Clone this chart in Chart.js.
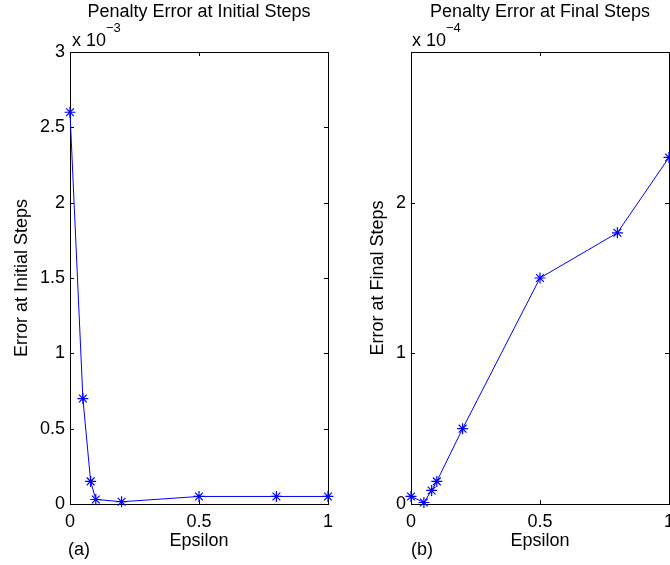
<!DOCTYPE html>
<html>
<head>
<meta charset="utf-8">
<script src="https://cdn.jsdelivr.net/npm/chart.js@4.4.0/dist/chart.umd.min.js"></script>
<style>
  body { margin: 0; width: 670px; height: 565px; overflow: hidden; background: #fff; position: relative;
         font-family: "Liberation Sans", Arial, Helvetica, sans-serif; color: #000; }
  canvas { position: absolute; top: 0; }
  #chartA { left: 0; }
  #chartB { left: 341px; }
  .txt { position: absolute; font-size: 18px; line-height: 18px; white-space: nowrap; }
  .txt .sup { position: relative; top: -14px; font-size: 13px; }
</style>
</head>
<body>
<canvas id="chartA" width="340" height="565"></canvas>
<canvas id="chartB" width="340" height="565"></canvas>
<div class="txt" style="left:72px;top:31px">x 10<span class="sup">&minus;3</span></div>
<div class="txt" style="left:412px;top:31px">x 10<span class="sup">&minus;4</span></div>
<div class="txt" style="left:68px;top:540px">(a)</div>
<div class="txt" style="left:411px;top:540px">(b)</div>
<script>
// ── Data ──
const EPSILON       = [0, 0.05, 0.08, 0.1, 0.2, 0.5, 0.8, 1];
const INITIAL_ERROR = [2.6e-3, 0.7e-3, 0.15e-3, 0.03e-3, 0.015e-3, 0.05e-3, 0.05e-3, 0.05e-3];
const FINAL_ERROR   = [0.05e-4, 0.01e-4, 0.09e-4, 0.15e-4, 0.5e-4, 1.5e-4, 1.8e-4, 2.3e-4];
const X_TICKS  = [0, 0.5, 1];
const X_LABELS = ['0', '0.5', '1'];

const FONT = '"Liberation Sans", Arial, Helvetica, sans-serif';
const TICK_LEN = 4;

Chart.defaults.font.family = FONT;
Chart.defaults.font.size = 18;
Chart.defaults.color = '#000';

// ── Box + inward tick marks (matlab style) ──
const boxTicks = {
  id: 'boxTicks',
  beforeDatasetsDraw(chart) {
    const { ctx, chartArea: a, scales: { x, y } } = chart;
    ctx.save();
    ctx.strokeStyle = '#000';
    ctx.lineWidth = 1;
    ctx.strokeRect(a.left + 0.5, a.top + 0.5, a.width, a.height);
    ctx.beginPath();
    x.ticks.forEach(t => {
      const px = Math.round(x.getPixelForValue(t.value)) + 0.5;
      ctx.moveTo(px, a.bottom); ctx.lineTo(px, a.bottom - TICK_LEN);
      ctx.moveTo(px, a.top);    ctx.lineTo(px, a.top + TICK_LEN);
    });
    y.ticks.forEach(t => {
      const py = Math.round(y.getPixelForValue(t.value)) + 0.5;
      ctx.moveTo(a.left, py);  ctx.lineTo(a.left + TICK_LEN, py);
      ctx.moveTo(a.right, py); ctx.lineTo(a.right - TICK_LEN, py);
    });
    ctx.stroke();
    ctx.restore();
  }
};

function buildChart(id, ys, opts) {
  const ctx = document.getElementById(id).getContext('2d');
  return new Chart(ctx, {
    type: 'scatter',
    data: {
      datasets: [{
        data: EPSILON.map((x, i) => ({ x, y: ys[i] })),
        showLine: true,
        borderColor: '#0000ff',
        borderWidth: 1,
        pointStyle: 'star',
        pointRadius: 5.5,
        pointBorderColor: '#0000ff',
        pointBorderWidth: 1.2,
        pointBackgroundColor: '#0000ff',
        clip: false,
      }],
    },
    options: {
      responsive: false,
      animation: false,
      layout: { padding: { left: 0, right: 10, top: 0, bottom: 0 } },
      plugins: {
        legend: { display: false },
        tooltip: { enabled: false },
        title: {
          display: true, text: opts.title, fullSize: false,
          font: { size: 18, weight: 'normal' }, color: '#000',
          padding: { top: 1, bottom: 29.4 },
        },
      },
      scales: {
        x: {
          type: 'linear', min: 0, max: 1,
          afterBuildTicks: s => { s.ticks = X_TICKS.map(v => ({ value: v })); },
          afterFit: s => { s.height = 61; },
          ticks: {
            padding: 7, color: '#000', maxRotation: 0,
            callback: v => X_LABELS[X_TICKS.indexOf(v)] ?? '',
          },
          grid: { display: false, drawTicks: false },
          border: { display: false },
          title: { display: true, text: 'Epsilon', color: '#000', padding: { top: 0, bottom: 13 } },
        },
        y: {
          type: 'linear', min: 0, max: opts.yMax,
          afterBuildTicks: s => { s.ticks = opts.yTicks.map(v => ({ value: v })); },
          afterFit: s => { s.width = 70; },
          ticks: {
            padding: 5, color: '#000',
            callback: v => opts.yLabels[opts.yTicks.indexOf(v)] ?? '',
          },
          grid: { display: false, drawTicks: false },
          border: { display: false },
          title: { display: true, text: opts.yTitle, color: '#000', padding: { top: opts.yTitlePad, bottom: 0 } },
        },
      },
    },
    plugins: [boxTicks],
  });
}

document.addEventListener('DOMContentLoaded', () => {
  buildChart('chartA', INITIAL_ERROR, {
    title: 'Penalty Error at Initial Steps',
    yTitle: 'Error at Initial Steps',
    yMax: 3e-3,
    yTicks: [0, 0.5e-3, 1e-3, 1.5e-3, 2e-3, 2.5e-3, 3e-3],
    yLabels: ['0', '0.5', '1', '1.5', '2', '2.5', '3'],
    yTitlePad: 11,
  });
  buildChart('chartB', FINAL_ERROR, {
    title: 'Penalty Error at Final Steps',
    yTitle: 'Error at Final Steps',
    yMax: 3e-4,
    yTicks: [0, 1e-4, 2e-4, 3e-4],
    yLabels: ['0', '1', '2', ''],
    yTitlePad: 26,
  });
});
</script>
</body>
</html>
